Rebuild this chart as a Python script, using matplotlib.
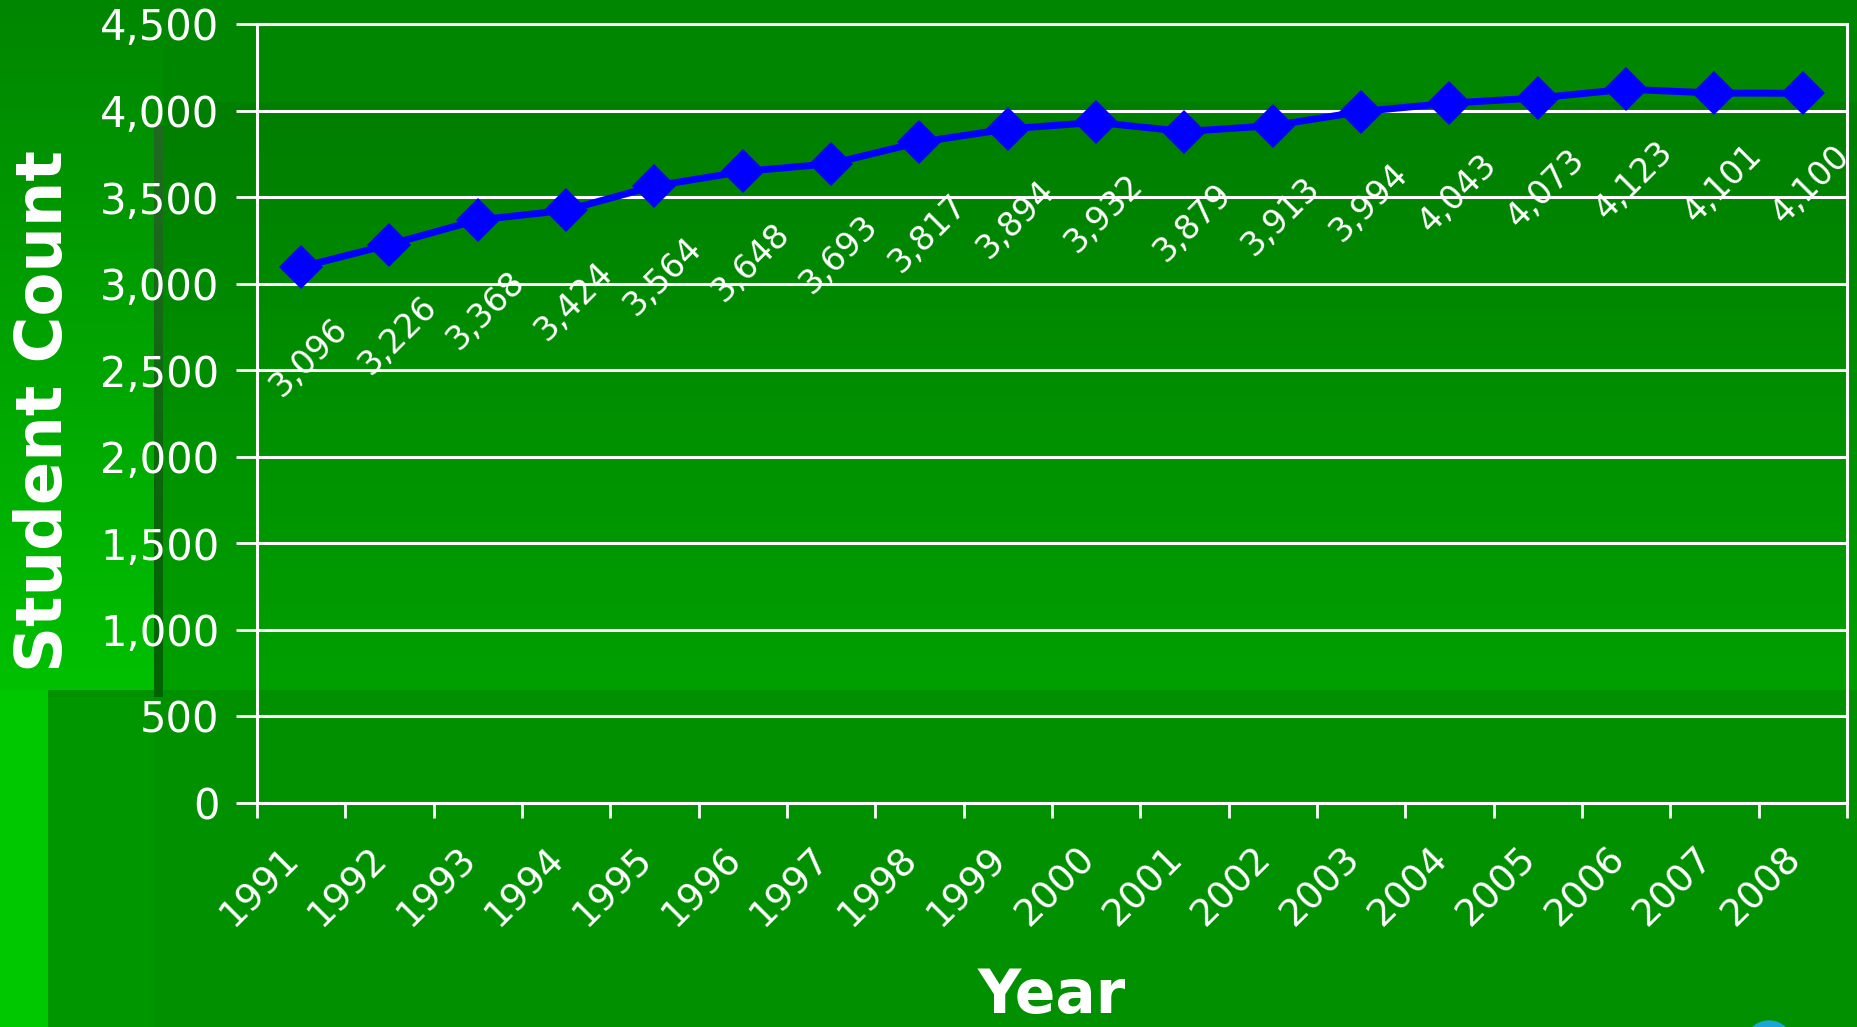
import numpy as np
import matplotlib
matplotlib.use("Agg")
import matplotlib.pyplot as plt
from matplotlib.ticker import FixedLocator, FuncFormatter, NullFormatter
from matplotlib.patches import Ellipse
from matplotlib.transforms import ScaledTranslation

# Enrollment data
years = ["1991", "1992", "1993", "1994", "1995", "1996", "1997", "1998", "1999",
         "2000", "2001", "2002", "2003", "2004", "2005", "2006", "2007", "2008"]
students = [3096, 3226, 3368, 3424, 3564, 3648, 3693, 3817, 3894,
            3932, 3879, 3913, 3994, 4043, 4073, 4123, 4101, 4100]
y_ticks = [0, 500, 1000, 1500, 2000, 2500, 3000, 3500, 4000, 4500]

W, H = 1857, 1027
DPI = 100
fig = plt.figure(figsize=(W / DPI, H / DPI), dpi=DPI)

# ---- slide background: green panels with soft vertical gradients ----
yy = np.arange(H)[:, None].astype(float)
xx = np.arange(W)[None, :].astype(float)
g = np.zeros((H, W))
r = np.zeros((H, W))

split_y = 690
# main panel
main_grad = 0x7E + (0xA0 - 0x7E) * np.clip((yy - 102) / (split_y - 102), 0, 1)
g[:] = np.where(yy < 102, 0x86, main_grad)
g = np.where(yy >= split_y, 0x90, g)
# bright left column
left_grad = 0x86 + (0xC0 - 0x86) * np.clip(yy / split_y, 0, 1)
left_mask = (xx < 163) & (yy < split_y)
g = np.where(left_mask, left_grad * np.ones_like(xx), g)
# thin dark divider
div_mask = (xx >= 154) & (xx < 163) & (yy >= 125) & (yy < 697)
t = np.clip((yy - 125) / (697 - 125), 0, 1) * np.ones_like(xx)
g = np.where(div_mask, 0x6A - 0x08 * t, g)
r = np.where(div_mask, 0x22 * (1 - t), r)
# lower left strips
g = np.where((yy >= 697) & (xx < 48), 0xC8, g)
g = np.where((yy >= 697) & (xx >= 48) & (xx < 154), 0x96, g)
g = np.where((yy >= split_y) & (yy < 697) & (xx < 48), 0xC8, g)

bg = np.dstack([r, g, r]) / 255.0
bg_ax = fig.add_axes([0, 0, 1, 1], zorder=0)
bg_ax.imshow(bg, aspect="auto", interpolation="nearest", extent=(0, W, H, 0))
bg_ax.set_xlim(0, W)
bg_ax.set_ylim(H, 0)
bg_ax.axis("off")
bg_ax.add_patch(Ellipse((1769, 1041), 44, 40, color="#1EA5D8", zorder=2))

# ---- chart ----
L, R, T, B = 257, 1847, 24, 803
ax = fig.add_axes([L / W, 1 - B / H, (R - L) / W, (B - T) / H], zorder=1)
ax.patch.set_alpha(0)

x = np.arange(len(years))
ax.plot(x, students, color="#0000FF", lw=5, marker="D", ms=22, mew=0, zorder=4,
        solid_joinstyle="miter")

for xi, v in zip(x, students):
    ax.annotate(f"{v:,}", (xi, v), xytext=(8, -91), textcoords="offset pixels",
                ha="center", va="center", rotation=45, rotation_mode="anchor",
                color="white", fontsize=24, zorder=5)

ax.set_xlim(-0.5, len(years) - 0.5)
ax.set_ylim(0, 4500)
ax.set_yticks(y_ticks)
ax.yaxis.set_major_formatter(FuncFormatter(lambda v, p: f"{v:,.0f}"))
ax.yaxis.grid(True, color="white", lw=2.2)
ax.set_axisbelow(True)

# category boundaries as major ticks, labels centred on categories
ax.xaxis.set_major_locator(FixedLocator(np.arange(-0.5, len(years), 1.0)))
ax.xaxis.set_major_formatter(NullFormatter())
ax.xaxis.set_minor_locator(FixedLocator(x))
ax.set_xticklabels(years, minor=True)
ax.tick_params(axis="x", which="major", length=11, width=2, color="white")
ax.tick_params(axis="x", which="minor", length=0, pad=27, labelsize=27,
               labelcolor="white")
shift = ScaledTranslation(-20 / DPI, 0, fig.dpi_scale_trans)
for lab in ax.get_xticklabels(minor=True):
    lab.set_rotation(45)
    lab.set_ha("right")
    lab.set_va("top")
    lab.set_rotation_mode("anchor")
    lab.set_transform(lab.get_transform() + shift)
ax.tick_params(axis="y", length=15, width=2, color="white", labelsize=30,
               labelcolor="white", pad=12)

for s in ax.spines.values():
    s.set_color("white")
    s.set_linewidth(2.2)

fig.text(44 / W, 1 - 411 / H, "Student Count", rotation=90, ha="center",
         va="center", fontsize=46, fontweight="bold", color="white")
fig.text(1052 / W, 1 - 1013 / H, "Year", ha="center", va="baseline",
         fontsize=43, fontweight="bold", color="white")

fig.savefig("out.png", dpi=DPI)
